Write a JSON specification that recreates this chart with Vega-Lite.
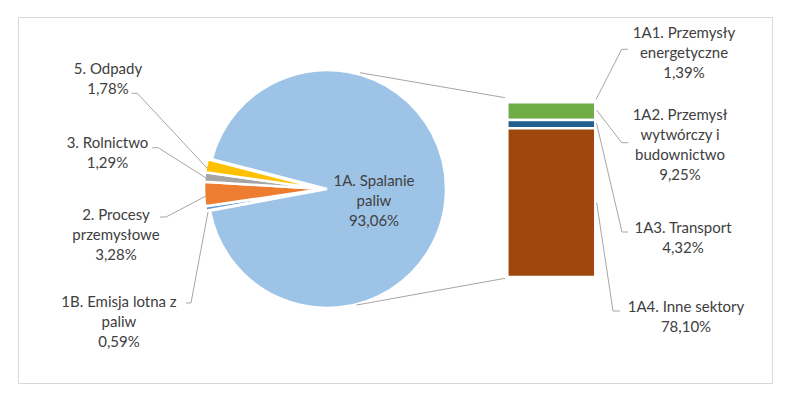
{
  "$schema": "https://vega.github.io/schema/vega-lite/v6.json",
  "width": 754,
  "height": 366,
  "padding": {"left": 18, "top": 17, "right": 18, "bottom": 12},
  "autosize": {"type": "none"},
  "config": {
    "view": {"stroke": "#D9D9D9", "strokeWidth": 1},
    "font": "Lato",
    "axis": {"disable": true},
    "legend": {"disable": true},
    "text": {"font": "Lato", "fontSize": 15, "lineHeight": 20, "fill": "#404040", "lineBreak": "\n", "align": "center", "baseline": "middle"},
    "rule": {"color": "#A6A6A6", "strokeWidth": 1}
  },
  "datasets": {
    "pie": [
      {"cat": "1A. Spalanie paliw", "value": 93.06, "label": "1A. Spalanie\npaliw\n93,06%"},
      {"cat": "1B. Emisja lotna z paliw", "value": 0.59, "label": "1B. Emisja lotna z\npaliw\n0,59%"},
      {"cat": "2. Procesy przemysłowe", "value": 3.28, "label": "2. Procesy\nprzemysłowe\n3,28%"},
      {"cat": "3. Rolnictwo", "value": 1.29, "label": "3. Rolnictwo\n1,29%"},
      {"cat": "5. Odpady", "value": 1.78, "label": "5. Odpady\n1,78%"}
    ],
    "bar": [
      {"cat": "1A1. Przemysły energetyczne", "value": 1.39, "label": "1A1. Przemysły\nenergetyczne\n1,39%"},
      {"cat": "1A2. Przemysł wytwórczy i budownictwo", "value": 9.25, "label": "1A2. Przemysł\nwytwórczy i\nbudownictwo\n9,25%"},
      {"cat": "1A3. Transport", "value": 4.32, "label": "1A3. Transport\n4,32%"},
      {"cat": "1A4. Inne sektory", "value": 78.10, "label": "1A4. Inne sektory\n78,10%"}
    ]
  },
  "resolve": {"scale": {"y": "independent"}},
  "layer": [
    {
      "data": {"name": "bar"},
      "transform": [
        {"stack": "value", "groupby": [], "sort": [{"field": "cat", "order": "descending"}], "as": ["v0", "v1"]}
      ],
      "mark": {"type": "rect", "stroke": "white", "strokeWidth": 2.5},
      "encoding": {
        "x": {"datum": 507.3, "type": "quantitative", "scale": {"domain": [18, 772], "nice": false, "zero": false}, "axis": null},
        "x2": {"datum": 595.3},
        "y": {"field": "v0", "type": "quantitative", "scale": {"domain": [0, 93.06], "range": [260, 82.7], "nice": false}, "axis": null},
        "y2": {"field": "v1"},
        "color": {
          "field": "cat", "type": "nominal", "legend": null,
          "scale": {
            "domain": ["1A. Spalanie paliw", "1B. Emisja lotna z paliw", "2. Procesy przemysłowe", "3. Rolnictwo", "5. Odpady", "1A1. Przemysły energetyczne", "1A2. Przemysł wytwórczy i budownictwo", "1A3. Transport", "1A4. Inne sektory"],
            "range": ["#9DC3E6", "#5B9BD5", "#ED7D31", "#A5A5A5", "#FFC000", "#4472C4", "#70AD47", "#255E91", "#9E480E"]
          }
        }
      }
    },
    {
      "data": {"values": [{}]},
      "layer": [
        {
          "data": {"name": "pie"},
          "mark": {"type": "arc", "radius": 119, "stroke": "white", "strokeWidth": 2.5},
          "encoding": {
            "theta": {"field": "value", "type": "quantitative", "stack": true, "scale": {"range": [4.9652, 11.2484]}},
            "order": {"field": "cat", "sort": "ascending"},
            "color": {
              "field": "cat", "type": "nominal", "legend": null,
              "scale": {
                "domain": ["1A. Spalanie paliw", "1B. Emisja lotna z paliw", "2. Procesy przemysłowe", "3. Rolnictwo", "5. Odpady", "1A1. Przemysły energetyczne", "1A2. Przemysł wytwórczy i budownictwo", "1A3. Transport", "1A4. Inne sektory"],
                "range": ["#9DC3E6", "#5B9BD5", "#ED7D31", "#A5A5A5", "#FFC000", "#4472C4", "#70AD47", "#255E91", "#9E480E"]
              }
            },
            "opacity": {"condition": {"test": "datum.cat === '1A. Spalanie paliw'", "value": 1}, "value": 0},
            "x": {"datum": 327, "type": "quantitative", "scale": {"domain": [18, 772], "nice": false, "zero": false}, "axis": null},
            "y": {"datum": 189, "type": "quantitative", "scale": {"domain": [17, 383], "reverse": true, "nice": false, "zero": false}, "axis": null}
          }
        },
        {
          "data": {"name": "pie"},
          "mark": {"type": "arc", "radius": 119, "stroke": "white", "strokeWidth": 2.5},
          "encoding": {
            "theta": {"field": "value", "type": "quantitative", "stack": true},
            "order": {"field": "cat", "sort": "ascending"},
            "color": {"field": "cat", "type": "nominal", "legend": null},
            "opacity": {"condition": {"test": "datum.cat === '1A. Spalanie paliw'", "value": 0}, "value": 1},
            "x": {"datum": 323, "type": "quantitative"},
            "y": {"datum": 189, "type": "quantitative"}
          }
        },
        {"mark": "rule", "encoding": {"x": {"datum": 360}, "y": {"datum": 72.7}, "x2": {"datum": 505}, "y2": {"datum": 97.7}}},
        {"mark": "rule", "encoding": {"x": {"datum": 356.7}, "y": {"datum": 305}, "x2": {"datum": 505}, "y2": {"datum": 278.3}}},

        {"mark": "rule", "encoding": {"x": {"datum": 131.7}, "y": {"datum": 93.3}, "x2": {"datum": 137.3}, "y2": {"datum": 93.3}}},
        {"mark": "rule", "encoding": {"x": {"datum": 137.3}, "y": {"datum": 93.3}, "x2": {"datum": 207}, "y2": {"datum": 168}}},
        {"mark": "rule", "encoding": {"x": {"datum": 152.3}, "y": {"datum": 147.7}, "x2": {"datum": 158.3}, "y2": {"datum": 147.7}}},
        {"mark": "rule", "encoding": {"x": {"datum": 158.3}, "y": {"datum": 147.7}, "x2": {"datum": 206}, "y2": {"datum": 178}}},
        {"mark": "rule", "encoding": {"x": {"datum": 160}, "y": {"datum": 217}, "x2": {"datum": 166}, "y2": {"datum": 217}}},
        {"mark": "rule", "encoding": {"x": {"datum": 166}, "y": {"datum": 217}, "x2": {"datum": 206}, "y2": {"datum": 196}}},
        {"mark": "rule", "encoding": {"x": {"datum": 186}, "y": {"datum": 303}, "x2": {"datum": 191}, "y2": {"datum": 303}}},
        {"mark": "rule", "encoding": {"x": {"datum": 191}, "y": {"datum": 303}, "x2": {"datum": 208}, "y2": {"datum": 212}}},

        {"mark": "rule", "encoding": {"x": {"datum": 628}, "y": {"datum": 49.3}, "x2": {"datum": 621.7}, "y2": {"datum": 49.3}}},
        {"mark": "rule", "encoding": {"x": {"datum": 621.7}, "y": {"datum": 49.3}, "x2": {"datum": 596}, "y2": {"datum": 99.5}}},
        {"mark": "rule", "encoding": {"x": {"datum": 628.3}, "y": {"datum": 142.7}, "x2": {"datum": 621.7}, "y2": {"datum": 142.7}}},
        {"mark": "rule", "encoding": {"x": {"datum": 621.7}, "y": {"datum": 142.7}, "x2": {"datum": 596.5}, "y2": {"datum": 110}}},
        {"mark": "rule", "encoding": {"x": {"datum": 628}, "y": {"datum": 232}, "x2": {"datum": 622}, "y2": {"datum": 232}}},
        {"mark": "rule", "encoding": {"x": {"datum": 622}, "y": {"datum": 232}, "x2": {"datum": 596.5}, "y2": {"datum": 123}}},
        {"mark": "rule", "encoding": {"x": {"datum": 620}, "y": {"datum": 311}, "x2": {"datum": 613}, "y2": {"datum": 311}}},
        {"mark": "rule", "encoding": {"x": {"datum": 613}, "y": {"datum": 311}, "x2": {"datum": 596.7}, "y2": {"datum": 202.7}}},

        {"data": {"name": "pie"}, "transform": [{"filter": "datum.cat === '5. Odpady'"}], "mark": "text", "encoding": {"text": {"field": "label"}, "x": {"datum": 108}, "y": {"datum": 69.3}}},
        {"data": {"name": "pie"}, "transform": [{"filter": "datum.cat === '3. Rolnictwo'"}], "mark": "text", "encoding": {"text": {"field": "label"}, "x": {"datum": 107.5}, "y": {"datum": 143.3}}},
        {"data": {"name": "pie"}, "transform": [{"filter": "datum.cat === '2. Procesy przemysłowe'"}], "mark": "text", "encoding": {"text": {"field": "label"}, "x": {"datum": 116}, "y": {"datum": 215}}},
        {"data": {"name": "pie"}, "transform": [{"filter": "datum.cat === '1B. Emisja lotna z paliw'"}], "mark": "text", "encoding": {"text": {"field": "label"}, "x": {"datum": 119}, "y": {"datum": 302}}},
        {"data": {"name": "pie"}, "transform": [{"filter": "datum.cat === '1A. Spalanie paliw'"}], "mark": "text", "encoding": {"text": {"field": "label"}, "x": {"datum": 374}, "y": {"datum": 181}}},
        {"data": {"name": "bar"}, "transform": [{"filter": "datum.cat === '1A1. Przemysły energetyczne'"}], "mark": "text", "encoding": {"text": {"field": "label"}, "x": {"datum": 684}, "y": {"datum": 32.7}}},
        {"data": {"name": "bar"}, "transform": [{"filter": "datum.cat === '1A2. Przemysł wytwórczy i budownictwo'"}], "mark": "text", "encoding": {"text": {"field": "label"}, "x": {"datum": 680}, "y": {"datum": 115}}},
        {"data": {"name": "bar"}, "transform": [{"filter": "datum.cat === '1A3. Transport'"}], "mark": "text", "encoding": {"text": {"field": "label"}, "x": {"datum": 683}, "y": {"datum": 228}}},
        {"data": {"name": "bar"}, "transform": [{"filter": "datum.cat === '1A4. Inne sektory'"}], "mark": "text", "encoding": {"text": {"field": "label"}, "x": {"datum": 686}, "y": {"datum": 307}}}
      ]
    }
  ]
}
